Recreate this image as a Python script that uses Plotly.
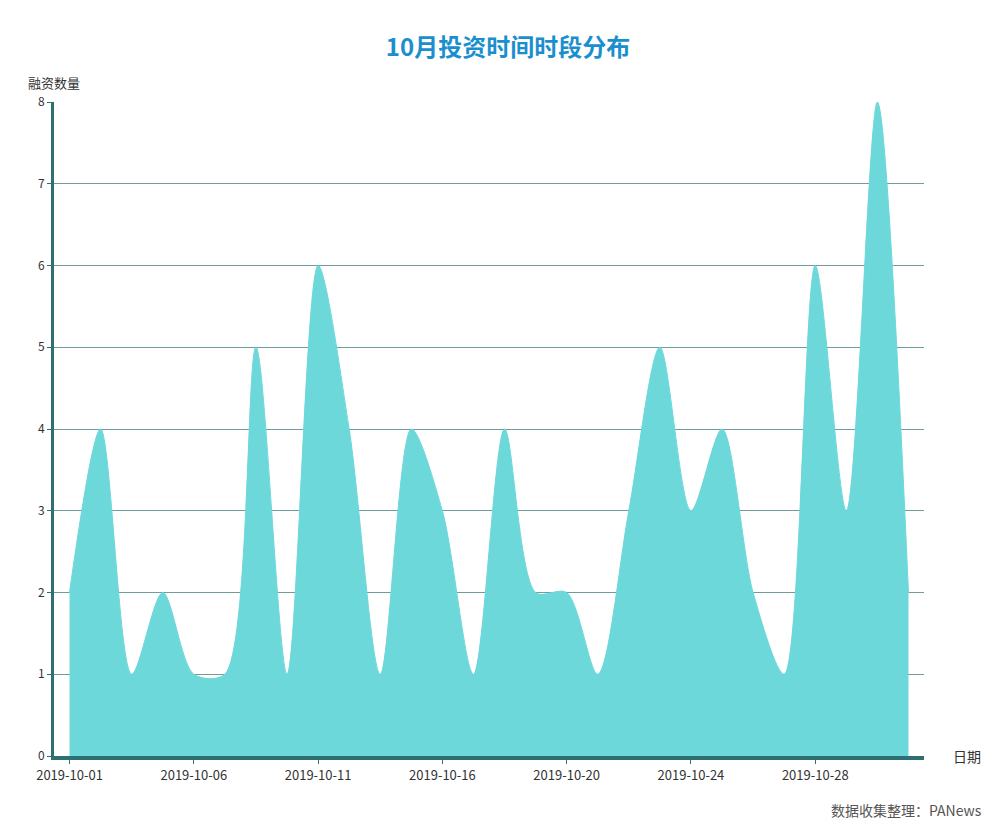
import plotly.graph_objects as go

dates = ["2019-10-01","2019-10-02","2019-10-03","2019-10-04","2019-10-06","2019-10-07","2019-10-08","2019-10-09",
         "2019-10-11","2019-10-12","2019-10-13","2019-10-14","2019-10-16","2019-10-17","2019-10-18","2019-10-19",
         "2019-10-20","2019-10-21","2019-10-22","2019-10-23","2019-10-24","2019-10-25","2019-10-26","2019-10-27",
         "2019-10-28","2019-10-29","2019-10-30","2019-10-31"]
counts = [2,4,1,2,1,1,5,1,6,4,1,4,3,1,4,2,2,1,3,5,3,4,2,1,6,3,8,2]
tick_labels = dates[::4]

fig = go.Figure(go.Scatter(
    x=list(range(len(dates))), y=counts, mode="lines", fill="tozeroy",
    line=dict(shape="spline", smoothing=0.85, color="#6dd8da", width=1),
    fillcolor="#6dd8da", customdata=dates, hovertemplate="%{customdata}: %{y}<extra></extra>"))

fig.update_layout(
    width=1000, height=835, paper_bgcolor="white", plot_bgcolor="white",
    margin=dict(l=46, r=84, t=94, b=87), showlegend=False,
    font=dict(family="Noto Sans CJK SC", size=12, color="#333"),
    title=dict(text="<b>10月投资时间时段分布</b>", x=0.5, xanchor="center", y=0.953, yanchor="middle",
               font=dict(size=24, color="#1b8fce")),
    xaxis=dict(range=[-0.5, 27.5], tickmode="array", tickvals=list(range(0, len(dates), 4)),
               ticktext=tick_labels, showgrid=False, zeroline=False, showline=True,
               linecolor="#2e6f72", linewidth=4, ticks="outside", ticklen=4, tickcolor="#2e6f72",
               tickfont=dict(size=13, color="#333")),
    yaxis=dict(range=[0, 8], dtick=1, showgrid=True, gridcolor="#6f9c9c", gridwidth=1, zeroline=False,
               showline=True, linecolor="#2e6f72", linewidth=3, ticks="outside", ticklen=4,
               tickcolor="#2e6f72", tickfont=dict(size=12, color="#333")),
    annotations=[
        dict(text="融资数量", xref="paper", yref="paper", x=0, y=1, xanchor="center", yanchor="bottom",
             yshift=8, showarrow=False, font=dict(size=13, color="#333")),
        dict(text="日期", xref="paper", yref="paper", x=1, y=0, xanchor="left", yanchor="middle",
             xshift=27, showarrow=False, font=dict(size=14, color="#333")),
        dict(text="数据收集整理：PANews", xref="paper", yref="paper", x=1, y=0, xanchor="right",
             yanchor="top", xshift=60, yshift=-42, showarrow=False, font=dict(size=14, color="#555")),
    ])
fig.write_html("out.html")
